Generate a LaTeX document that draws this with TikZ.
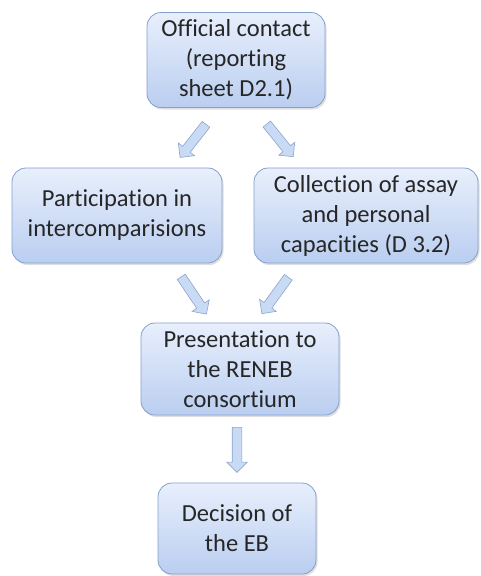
\documentclass[tikz,border=0pt]{standalone}
\usepackage{fontspec}
\setmainfont{Carlito}[Ligatures=NoCommon]
\usepackage{tikz}
\usetikzlibrary{positioning, calc, shadows, shapes.arrows}

\definecolor{boxtop}{RGB}{232,239,252}
\definecolor{boxbot}{RGB}{186,206,240}
\definecolor{boxline}{RGB}{132,160,204}
\definecolor{arrowfill}{RGB}{200,218,244}
\definecolor{arrowline}{RGB}{140,165,204}

\tikzset{
    box/.style={rectangle, rounded corners=14pt, draw=boxline, line width=0.8pt,
        top color=boxtop, bottom color=boxbot, align=center, inner sep=2pt,
        font=\fontsize{24.5}{30}\selectfont, text=black!85,
        drop shadow={shadow xshift=1.5pt, shadow yshift=-2pt, opacity=0.25}},
    flow/.style={single arrow, draw=arrowline, fill=arrowfill, line width=0.6pt,
        minimum height=42pt, inner xsep=0pt, inner ysep=4.5pt,
        single arrow head extend=5.5pt, single arrow tip angle=90}
}

\begin{document}
\begin{tikzpicture}[x=1pt, y=-1pt]
        \useasboundingbox (0,0) rectangle (480,576);

        \node[box, minimum width=178pt, minimum height=95pt] (contact) at (236, 60) {Official contact\\(reporting\\sheet D2.1)}; % top
        \node[box, minimum width=210pt, minimum height=95pt] (partic) at (117, 215.5) {Participation in\\intercomparisions}; % left
        \node[box, minimum width=224pt, minimum height=95pt] (collect) at (366, 215.5) {Collection of assay\\and personal\\capacities (D 3.2)}; % right
        \node[box, minimum width=198pt, minimum height=92pt] (present) at (240, 369) {Presentation to\\the RENEB\\consortium}; % middle
        \node[box, minimum width=158pt, minimum height=91pt] (decision) at (237, 528.5) {Decision of\\the EB}; % bottom

        \node[flow, rotate=232] (a1) at (194.5, 139) {}; % contact -> partic
        \node[flow, rotate=309] (a2) at (278.5, 138.5) {}; % contact -> collect
        \node[flow, rotate=304, minimum height=45pt] (a3) at (192.5, 293.5) {}; % partic -> present
        \node[flow, rotate=234, minimum height=45pt] (a4) at (276.5, 293.5) {}; % collect -> present
        \node[flow, rotate=270, minimum height=45pt] (a5) at (237, 447.5) {}; % present -> decision
    \end{tikzpicture}
\end{document}
